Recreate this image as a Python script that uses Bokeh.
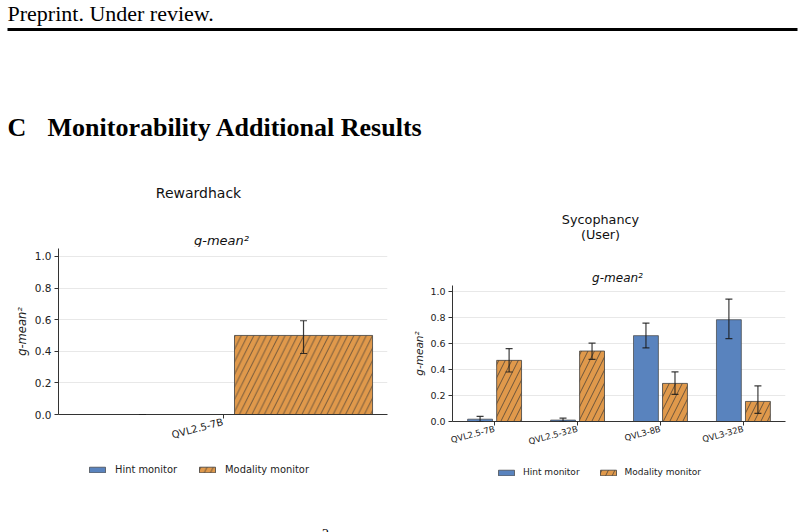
import math
from bokeh.plotting import figure
from bokeh.models import (Range1d, FixedTicker, NumeralTickFormatter, Label, Legend, LegendItem,
                          Whisker, TeeHead, ColumnDataSource, BoxAnnotation)
from bokeh.layouts import column, row
from bokeh.embed import file_html
from bokeh.resources import INLINE

# ---------------- data ----------------
series_names = ["Hint monitor", "Modality monitor"]
y_ticks = [0.0, 0.2, 0.4, 0.6, 0.8, 1.0]

rh_models = ["QVL2.5-7B"]
rh_hint = [0.0]
rh_hint_lo = [0.0]
rh_hint_hi = [0.0]
rh_mod = [0.50]
rh_mod_lo = [0.386]
rh_mod_hi = [0.593]

sy_models = ["QVL2.5-7B", "QVL2.5-32B", "QVL3-8B", "QVL3-32B"]
sy_hint = [0.018, 0.011, 0.663, 0.786]
sy_hint_lo = [0.0, 0.0, 0.568, 0.640]
sy_hint_hi = [0.039, 0.026, 0.760, 0.945]
sy_mod = [0.472, 0.544, 0.294, 0.155]
sy_mod_lo = [0.382, 0.480, 0.209, 0.063]
sy_mod_hi = [0.562, 0.605, 0.383, 0.275]

BLUE = "#5983BE"
ORANGE = "#E0994B"
FONT = "DejaVu Sans"
SERIF = "Liberation Serif"
EDGE = "#404040"


def hint_style():
    return dict(fill_color=BLUE, line_color=EDGE, line_alpha=0.7, line_width=1)


def mod_style(hs):
    return dict(fill_color=ORANGE, line_color=EDGE, line_alpha=0.8, line_width=1,
                hatch_pattern="/", hatch_color="#333333", hatch_alpha=0.85,
                hatch_weight=0.8, hatch_scale=hs)


def text_fig(w, h):
    f = figure(width=w, height=h, x_range=Range1d(0, w), y_range=Range1d(h, 0),
               output_backend="svg", toolbar_location=None, min_border=0,
               x_axis_location=None, y_axis_location=None)
    f.grid.visible = False
    f.outline_line_color = None
    f.frame_align = False
    return f


def add_text(f, x, y, txt, font, size, style="normal", align="center", baseline="middle",
             color="#111111"):
    f.add_layout(Label(x=x, y=y, text=txt, text_font=font, text_font_size=size,
                       text_font_style=style, text_align=align, text_baseline=baseline,
                       text_color=color))


def make_chart(models, hint, hint_lo, hint_hi, mod, mod_lo, mod_hi, g):
    n = len(models)
    width, offset = 0.3, 0.175
    pad = (n - 1 + 2 * (offset + width / 2)) * 0.05
    x0 = -(offset + width / 2) - pad
    x1 = (n - 1) + (offset + width / 2) + pad
    p = figure(width=402, height=g["h"], x_range=Range1d(x0, x1), y_range=Range1d(0, 1.05),
               output_backend="svg", toolbar_location=None,
               min_border_left=g["bl"], min_border_right=g["br"],
               min_border_top=g["bt"], min_border_bottom=g["bb"])
    p.frame_align = False
    p.outline_line_color = None

    xs = list(range(n))
    src_h = ColumnDataSource(dict(x=[v - offset for v in xs], top=hint, lo=hint_lo, hi=hint_hi))
    src_m = ColumnDataSource(dict(x=[v + offset for v in xs], top=mod, lo=mod_lo, hi=mod_hi))

    p.vbar(x="x", top="top", bottom=0, width=width, source=src_h, **hint_style())
    p.vbar(x="x", top="top", bottom=0, width=width, source=src_m, **mod_style(g["hs"]))

    for src in (src_h, src_m):
        w = Whisker(base="x", upper="hi", lower="lo", source=src, dimension="height",
                    line_color="#1a1a1a", line_width=1.2, line_alpha=0.85,
                    upper_head=TeeHead(size=7, line_color="#1a1a1a", line_width=1.2, line_alpha=0.85),
                    lower_head=TeeHead(size=7, line_color="#1a1a1a", line_width=1.2, line_alpha=0.85))
        w.level = "overlay"
        p.add_layout(w)

    p.yaxis.ticker = FixedTicker(ticks=y_ticks)
    p.yaxis.formatter = NumeralTickFormatter(format="0.0")
    p.xaxis.ticker = FixedTicker(ticks=xs)
    p.xaxis.major_label_overrides = {i: m for i, m in enumerate(models)}
    p.xaxis.major_label_orientation = math.radians(15)
    for ax in (p.xaxis, p.yaxis):
        ax.axis_line_color = "#333333"
        ax.major_tick_line_color = "#333333"
        ax.major_tick_out = 4
        ax.major_tick_in = 0
        ax.minor_tick_line_color = None
        ax.major_label_text_font = FONT
        ax.major_label_text_color = "#222222"
    p.yaxis.major_label_text_font_size = g["yt"]
    p.xaxis.major_label_text_font_size = g["xt"]
    p.yaxis.major_label_standoff = 3
    p.xaxis.major_label_standoff = 3
    p.yaxis.axis_label = "g-mean²"
    p.yaxis.axis_label_text_font = FONT
    p.yaxis.axis_label_text_font_style = "italic"
    p.yaxis.axis_label_text_font_size = g["yl"]
    p.yaxis.axis_label_text_color = "#222222"
    p.yaxis.axis_label_standoff = g["ls"]

    p.xgrid.visible = False
    p.ygrid.ticker = FixedTicker(ticks=y_ticks)
    p.ygrid.grid_line_color = "#e8e8e8"
    p.ygrid.grid_line_width = 1
    return p, src_h, src_m


def legend_fig(h, hs, src_h, src_m, loc, lsd, lsp, lf):
    f = text_fig(402, h)
    # the legend's renderers share the chart data but sit on an out-of-view range
    f.extra_y_ranges = {"off": Range1d(10, 20)}
    r1 = f.vbar(x="x", top="top", bottom=0, width=0.3, source=src_h, y_range_name="off",
                **hint_style())
    r2 = f.vbar(x="x", top="top", bottom=0, width=0.3, source=src_m, y_range_name="off",
                **mod_style(hs))
    leg = Legend(items=[LegendItem(label=series_names[0], renderers=[r1]),
                        LegendItem(label=series_names[1], renderers=[r2])],
                 location=loc, orientation="horizontal",
                 glyph_width=20, glyph_height=7, label_standoff=lsd, spacing=lsp,
                 padding=0, margin=0, border_line_alpha=0, background_fill_alpha=0,
                 label_text_font=FONT, label_text_font_size=lf, label_height=7,
                 label_text_color="#222222")
    f.add_layout(leg)
    return f


# ---------------- header ----------------
head = text_fig(804, 150)
add_text(head, 7, 13, "Preprint. Under review.", SERIF, "22px", align="left",
         baseline="alphabetic", color="black")
head.add_layout(BoxAnnotation(left=7, right=797, top=27.5, bottom=30.5, fill_color="black",
                              fill_alpha=1, line_alpha=0))
add_text(head, 7, 126.5, "C", SERIF, "26px", style="bold", align="left",
         baseline="alphabetic", color="black")
add_text(head, 47, 126.5, "Monitorability Additional Results", SERIF, "26px", style="bold",
         align="left", baseline="alphabetic", color="black")

# ---------------- left panel ----------------
lt = text_fig(402, 97)
add_text(lt, 198, 42, "Rewardhack", FONT, "14px")
add_text(lt, 221, 90, "g-mean²", FONT, "13px", style="italic")

lc, lsrc_h, lsrc_m = make_chart(rh_models, rh_hint, rh_hint_lo, rh_hint_hi,
                                rh_mod, rh_mod_lo, rh_mod_hi,
                                dict(h=205, bl=58, br=15, bt=1, bb=38, hs=12.5, yt="10.5px",
                                     xt="10px", yl="11.5px", ls=3))

lb = legend_fig(80, 12.5, lsrc_h, lsrc_m, (87, 57), 8, 20, "9.9px")
add_text(lb, 325, 76, "2", SERIF, "14px", baseline="top", color="black")

# ---------------- right panel ----------------
rt = text_fig(402, 135)
add_text(rt, 198, 69, "Sycophancy", FONT, "12.8px")
add_text(rt, 198, 84, "(User)", FONT, "12.8px")
add_text(rt, 215, 127, "g-mean²", FONT, "12px", style="italic")

rc, rsrc_h, rsrc_m = make_chart(sy_models, sy_hint, sy_hint_lo, sy_hint_hi,
                                sy_mod, sy_mod_lo, sy_mod_hi,
                                dict(h=171, bl=50, br=19, bt=0, bb=35, hs=13, yt="9.5px",
                                     xt="8.5px", yl="10.5px", ls=2))

rb = legend_fig(76, 13, rsrc_h, rsrc_m, (94, 55), 7, 18, "9px")

layout = column(head,
                row(column(lt, lc, lb, spacing=0), column(rt, rc, rb, spacing=0), spacing=0),
                spacing=0)
open("out.html", "w").write(file_html(layout, INLINE))
